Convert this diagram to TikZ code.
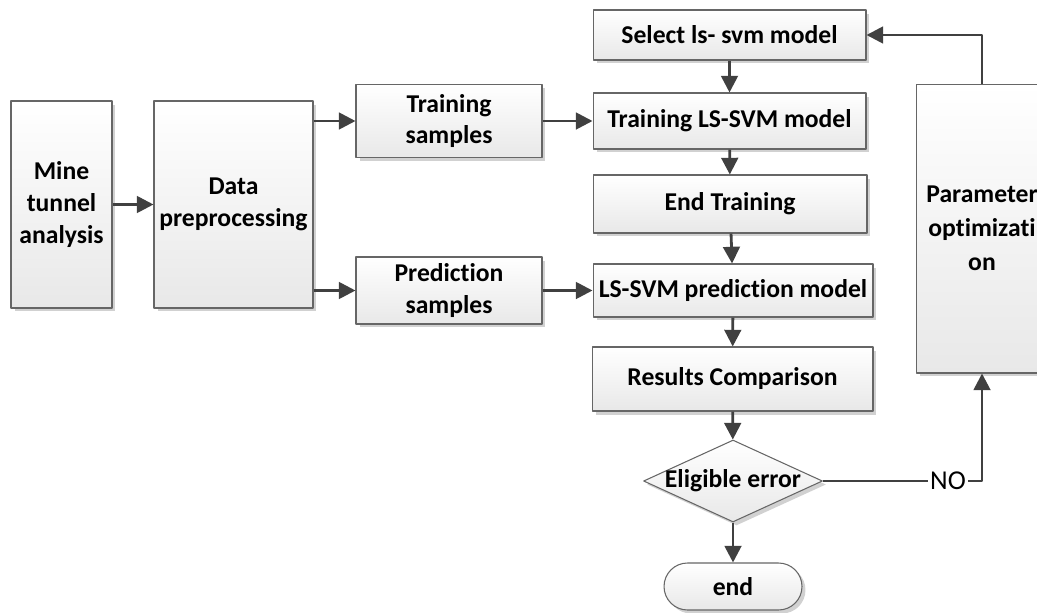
\documentclass[tikz,border=0pt]{standalone}
\usepackage{fontspec}
\setmainfont{Carlito}[Ligatures=NoCommon]
\usetikzlibrary{arrows.meta,shapes.geometric,shadows,calc}

\begin{document}
\begin{tikzpicture}[x=0.02cm,y=-0.02cm,line join=round,
  box/.style={draw=black!60,line width=0.6pt,top color=white,bottom color=black!9,
    drop shadow={shadow xshift=0.07cm,shadow yshift=-0.07cm,fill=black!18,opacity=1},
    font=\fontsize{14.6}{18}\selectfont\bfseries,align=center,inner sep=0pt},
  flow/.style={draw=black!75,line width=1.6pt,-{Triangle[length=9.5pt,width=9.5pt]}}]
\useasboundingbox (0,0) rectangle (1037,612);
\clip (0,0) rectangle (1037,612);
\node[box,minimum width=2.02cm,minimum height=4.14cm] (mine) at (61.5,204.5) {Mine\\tunnel\\analysis};
\node[box,minimum width=3.18cm,minimum height=4.14cm] (prep) at (233.5,204.5) {Data\\preprocessing};
\node[box,minimum width=3.72cm,minimum height=1.46cm] (trains) at (449,121) {Training\\samples};
\node[box,minimum width=3.72cm,minimum height=1.34cm] (preds) at (449,290.5) {Prediction\\samples};
\node[box,minimum width=5.46cm,minimum height=1.0cm] (select) at (729.5,35) {Select ls- svm model};
\node[box,minimum width=5.46cm,minimum height=1.12cm] (trainm) at (729.5,121) {Training LS-SVM model};
\node[box,minimum width=5.48cm,minimum height=1.16cm] (endt) at (730,204) {End Training};
\node[box,minimum width=5.6cm,minimum height=1.06cm] (predm) at (733,290.5) {LS-SVM prediction model};
\node[box,minimum width=5.62cm,minimum height=1.28cm] (result) at (732.5,379) {Results Comparison};
\node[box,diamond,aspect=2.2,minimum width=3.58cm,minimum height=1.64cm] (elig) at (733,481) {\makebox[0pt]{Eligible error}}; % text wider than the shape allows
\node[box,rounded corners=0.47cm,minimum width=2.76cm,minimum height=0.94cm] (finish) at (733,586.5) {end};
\node[box,minimum width=2.64cm,minimum height=5.78cm,font=\fontsize{14.6}{19.5}\selectfont\bfseries] (param) at (982,228.5) {Parameter\\optimizati\\on}; % cut at the edge
\node[font=\fontsize{15.5}{18}\selectfont,inner sep=1pt] (no) at (948,481) {NO};
% main flow
\draw[flow] (mine) -- (prep);
\draw[flow] (prep.east |- trains) -- (trains);
\draw[flow] (prep.east |- preds) -- (preds);
\draw[flow] (trains) -- (trainm);
\draw[flow] (preds) -- (predm);
\draw[flow] (select) -- (trainm);
\draw[flow] (trainm) -- (endt);
\draw[flow] (endt) -- (predm);
\draw[flow] (predm) -- (result);
\draw[flow] (result) -- (elig);
\draw[flow] (elig) -- (finish);
% loop back
\draw[flow,-] (elig) -- (no);
\draw[flow] (no) -| (param);
\draw[flow] (param) |- (select);
\end{tikzpicture}
\end{document}
